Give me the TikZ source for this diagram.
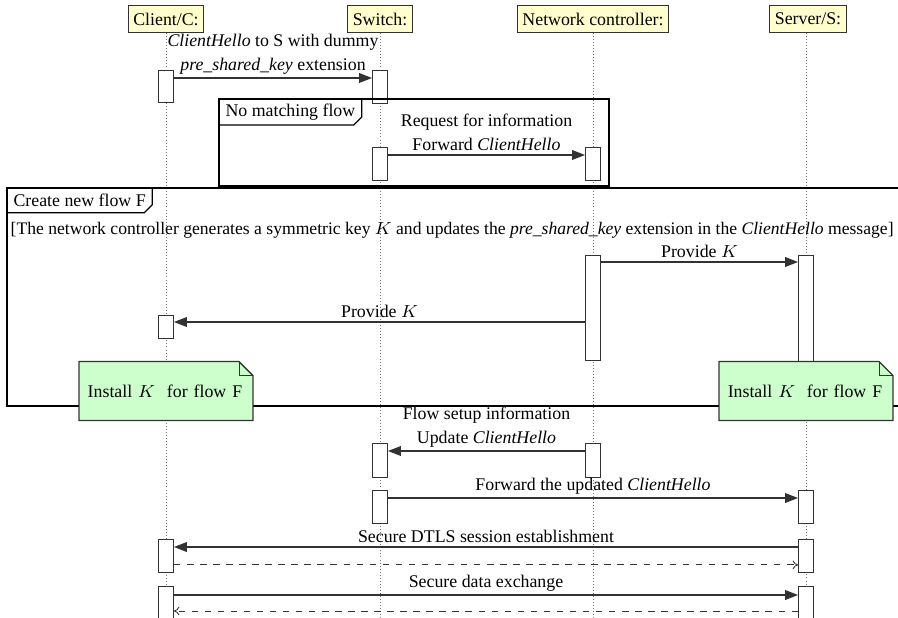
\documentclass[tikz,border=0pt]{standalone}
\usepackage{fontspec}
\setmainfont{Liberation Serif}
\usetikzlibrary{positioning,arrows.meta,calc}
\definecolor{headfill}{RGB}{255,255,206}
\definecolor{notefill}{RGB}{204,255,204}
\definecolor{edge}{RGB}{50,50,50}
\definecolor{lgray}{RGB}{120,120,120}
\tikzset{
  actor/.style={draw=edge, fill=headfill, inner xsep=2.4pt, minimum height=12pt, text=black},
  life/.style={draw=lgray, densely dotted, thin},
  act/.style={draw=edge, fill=white, minimum width=6.9pt, minimum height=#1*0.46pt,
              inner sep=0pt, anchor=north},
  msg/.style={-{Triangle[length=6pt,width=4.5pt]}, draw=edge, semithick},
  ret/.style={-{To[length=2.5pt,width=4pt]}, draw=edge, dashed, thin},
  lbl/.style={align=center, inner sep=1.5pt},
  frame/.style={draw=black, semithick},
  tag/.style={anchor=north west, inner xsep=2.8pt, inner ysep=2pt, minimum height=11pt},
  note/.style={minimum width=79.6pt, minimum height=26.7pt, text width=72pt, align=left,
               inner xsep=3.5pt},
  guard/.style={anchor=west, inner sep=1.5pt, font=\fontsize{8.1pt}{11pt}\selectfont},
}

\begin{document}
\begin{tikzpicture}[x=0.46pt, y=-0.46pt, font=\fontsize{8.2pt}{11pt}\selectfont]
  \clip (0,0) rectangle (898,618);

  % participants
  \node[actor] (client) at (166,19) {Client/C:};
  \node[actor] (switch) at (380,19) {Switch:};
  \node[actor] (ctrl) at (593,19) {Network controller:};
  \node[actor] (server) at (808,19) {Server/S:};
  \foreach \p in {client,switch,ctrl}
    \draw[life] (\p.south) -- (\p.south |- 0,640);
  \draw[life] (server.south -| 806,0) -- (806,640);

  % ClientHello
  \node[act=32] (c1) at (166,70) {};
  \node[act=33] (s1) at (380,70) {};
  \draw[msg] ($(c1.north east)+(0,8)$) -- ($(s1.north west)+(0,8)$)
    node[midway, above, lbl] {\textit{ClientHello} to S with dummy\\\textit{pre\_shared\_key} extension};

  % no matching flow
  \draw[frame] (219,99) rectangle (609,186);
  \node[tag] (nomatch) at (219,99) {No matching flow};
  \draw[frame] (nomatch.north east) -- ($(nomatch.south east)+(0,-8)$)
    -- ($(nomatch.south east)+(-8,0)$) -- (nomatch.south west);
  \node[act=33] (s2) at (380,147) {};
  \node[act=33] (n1) at (593,147) {};
  \draw[msg] ($(s2.north east)+(0,8)$) -- ($(n1.north west)+(0,8)$)
    node[midway, above, lbl] {Request for information\\Forward \textit{ClientHello}};

  % create new flow
  \draw[frame] (7,188) rectangle (912,406);
  \node[tag] (newflow) at (7,188) {Create new flow F};
  \draw[frame] (newflow.north east) -- ($(newflow.south east)+(0,-8)$)
    -- ($(newflow.south east)+(-8,0)$) -- (newflow.south west);
  \node[guard] (keygen) at (7,230) {[The network controller generates a symmetric key $K$ and updates the \textit{pre\_shared\_key} extension in the \textit{ClientHello} message]};
  \node[act=105] (n2) at (593,255) {};
  \node[act=115] (v1) at (806,255) {};
  \draw[msg] ($(n2.north east)+(0,7)$) -- ($(v1.north west)+(0,7)$)
    node[midway, above, lbl] {Provide $K$};
  \node[act=23] (c2) at (166,315) {};
  \coordinate (k2) at ($(c2.north east)+(0,7)$);
  \draw[msg] (n2.west |- k2) -- (k2)
    node[midway, above, lbl] {Provide $K$};

  % install notes
  \node[note] (notec) at (166,391) {};
  \node[note] (notes) at (806,391) {};
  \foreach \n in {notec,notes} {
    \filldraw[fill=notefill, draw=edge, semithick] (\n.south west) -- (\n.north west)
      -- ($(\n.north east)+(-14,0)$) -- ($(\n.north east)+(0,14)$) -- (\n.south east) -- cycle;
    \draw[edge, thin] ($(\n.north east)+(-14,0)$) |- ($(\n.north east)+(0,14)$);
    \node[note] at (\n) {Install $K$\ \ for flow F};
  }

  % flow setup
  \node[act=34] (n3) at (593,443) {};
  \node[act=34] (s3) at (380,443) {};
  \draw[msg] ($(n3.north west)+(0,8)$) -- ($(s3.north east)+(0,8)$)
    node[midway, above, lbl] {Flow setup information\\Update \textit{ClientHello}};
  \node[act=33] (s4) at (380,490) {};
  \node[act=33] (v2) at (806,490) {};
  \draw[msg] ($(s4.north east)+(0,8)$) -- ($(v2.north west)+(0,8)$)
    node[midway, above, lbl] {Forward the updated \textit{ClientHello}};

  % DTLS
  \node[act=33] (c3) at (166,539) {};
  \node[act=33] (v3) at (806,539) {};
  \draw[msg] ($(v3.north west)+(0,8)$) -- ($(c3.north east)+(0,8)$)
    node[midway, above, lbl] {Secure DTLS session establishment};
  \draw[ret] ($(c3.south east)+(0,-8)$) -- ($(v3.south west)+(0,-8)$);

  % data
  \node[act=45] (c4) at (166,586) {};
  \node[act=45] (v4) at (806,586) {};
  \draw[msg] ($(c4.north east)+(0,9)$) -- ($(v4.north west)+(0,9)$)
    node[midway, above, lbl] {Secure data exchange};
  \draw[ret] ($(v4.north west)+(0,25)$) -- ($(c4.north east)+(0,25)$);
\end{tikzpicture}
\end{document}
